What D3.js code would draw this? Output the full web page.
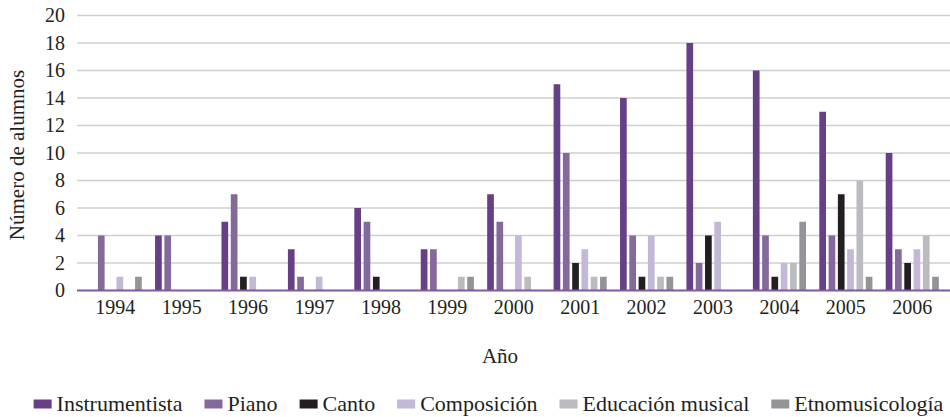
<!DOCTYPE html>
<html>
<head>
<meta charset="utf-8">
<script src="https://cdn.jsdelivr.net/npm/d3@7"></script>
<style>
  html, body { margin: 0; padding: 0; background: #fff; }
  #chart text { font-family: "Liberation Serif", serif !important; }
</style>
</head>
<body>
<svg id="chart" width="950" height="417"></svg>
<script>
const years = ["1994","1995","1996","1997","1998","1999","2000","2001","2002","2003","2004","2005","2006"];
const seriesNames = ["Instrumentista","Piano","Canto","Composición","Educación musical","Etnomusicología"];
const seriesColors = ["#673F86","#84699B","#231F20","#C3B8D5","#BBBCBF","#939497"];
const instrumentista = [0,4,5,3,6,3,7,15,14,18,16,13,10];
const piano          = [4,4,7,1,5,3,5,10,4,2,4,4,3];
const canto          = [0,0,1,0,1,0,0,2,1,4,1,7,2];
const composicion    = [1,0,1,1,0,0,4,3,4,5,2,3,3];
const educacion      = [0,0,0,0,0,1,1,1,1,0,2,8,4];
const etnomusicologia= [1,0,0,0,0,1,0,1,1,0,5,1,1];
const yTicks = [0,2,4,6,8,10,12,14,16,18,20];
const yTitle = "Número de alumnos";
const xTitle = "Año";

const seriesValues = [instrumentista, piano, canto, composicion, educacion, etnomusicologia];
const FONT = "Liberation Serif";
const TXT = "#231F20";

const svg = d3.select("#chart");
const x0 = d3.scaleBand().domain(years).range([82, 945.5]).paddingInner(0).paddingOuter(0);
const bw = x0.bandwidth();
const x1 = d3.scaleBand().domain(seriesNames).range([bw*0.1, bw*0.9]).paddingInner(0.28).paddingOuter(0);
const y = d3.scaleLinear().domain([0, 20]).range([290.5, 15.5]);

// gridlines
svg.append("g").selectAll("line").data(yTicks.filter(d => d !== 0)).join("line")
  .attr("x1", 77).attr("x2", 950)
  .attr("y1", d => y(d)).attr("y2", d => y(d))
  .attr("stroke", "#CFCFD1").attr("stroke-width", 1.5);

// y tick labels
svg.append("g").selectAll("text").data(yTicks).join("text")
  .attr("x", 65).attr("y", d => y(d) + 6.5)
  .attr("text-anchor", "end")
  .attr("font-family", FONT).style("font-family", FONT).attr("fill", TXT)
  .attr("font-size", 20)
  .text(d => d);

// bars
const groups = svg.append("g").selectAll("g").data(years).join("g")
  .attr("transform", d => `translate(${x0(d)},0)`);
groups.selectAll("rect").data((yr, i) => seriesNames.map((s, k) => ({s, k, v: seriesValues[k][i]})))
  .join("rect")
  .attr("x", d => x1(d.s))
  .attr("width", x1.bandwidth())
  .attr("y", d => y(d.v))
  .attr("height", d => y(0) - y(d.v))
  .attr("fill", d => seriesColors[d.k]);

// baseline
svg.append("line").attr("x1", 77).attr("x2", 950)
  .attr("y1", y(0)).attr("y2", y(0))
  .attr("stroke", "#7E5B9D").attr("stroke-width", 2);

// x labels
svg.append("g").selectAll("text").data(years).join("text")
  .attr("x", d => x0(d) + bw/2).attr("y", 314)
  .attr("text-anchor", "middle").attr("font-size", 20)
  .attr("font-family", FONT).style("font-family", FONT).attr("fill", TXT)
  .text(d => d);

// axis titles
svg.append("text").attr("x", 500).attr("y", 363)
  .attr("font-family", FONT).style("font-family", FONT).attr("fill", TXT)
  .attr("text-anchor", "middle").attr("font-size", 21).text(xTitle);
svg.append("text").attr("transform", "translate(24,155) rotate(-90)")
  .attr("font-family", FONT).style("font-family", FONT).attr("fill", TXT)
  .attr("text-anchor", "middle").attr("font-size", 21).text(yTitle);

// legend
const leg = svg.append("g");
let cx = 0;
const GAP = 22;
seriesNames.forEach((name, k) => {
  const g = leg.append("g").attr("transform", `translate(${cx},0)`);
  g.append("rect").attr("x", 0).attr("y", -11).attr("width", 18).attr("height", 9)
    .attr("fill", seriesColors[k]);
  const t = g.append("text").attr("x", 23).attr("y", 0).attr("font-size", 22)
    .attr("font-family", FONT).style("font-family", FONT).attr("fill", TXT).text(name);
  const w = t.node().getComputedTextLength();
  cx += 23 + w + GAP;
});
const totalW = cx - GAP;
leg.attr("transform", `translate(${(32 + 945)/2 - totalW/2},410.5)`);
</script>
</body>
</html>
